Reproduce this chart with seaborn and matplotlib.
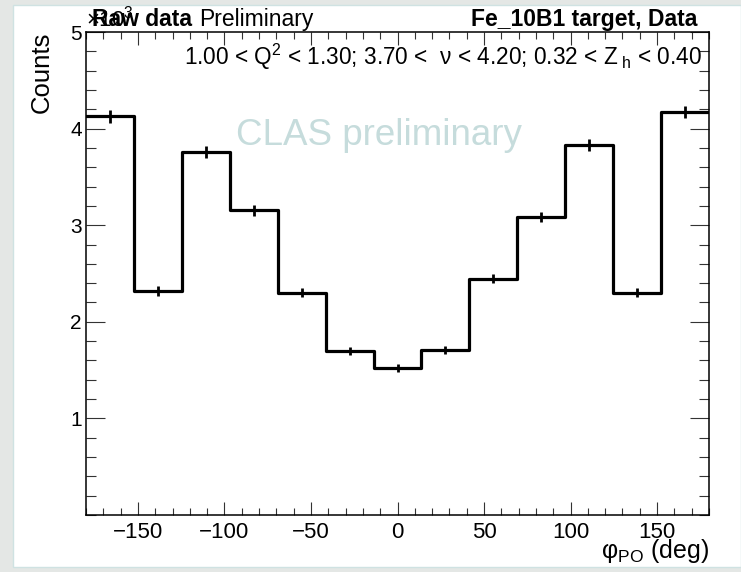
import numpy as np
import pandas as pd
import matplotlib
matplotlib.use("Agg")
import matplotlib.pyplot as plt
import seaborn as sns
from matplotlib.patches import Rectangle
from matplotlib.ticker import MultipleLocator, FixedLocator, FixedFormatter

# ---- data (counts in units of 10^3) ----
counts_k = [4.126, 2.319, 3.762, 3.154, 2.302, 1.696, 1.523,
            1.713, 2.448, 3.084, 3.835, 2.302, 4.174]
x_range = (-180, 180)
n_bins = 13
x_ticks = [-150, -100, -50, 0, 50, 100, 150]
y_ticks_k = [1, 2, 3, 4, 5]
y_tick_labels = ["1", "2", "3", "4", "5"]

sns.set_theme(style="ticks")
plt.rcParams['font.family'] = ['Liberation Sans', 'DejaVu Sans']
plt.rcParams['mathtext.fontset'] = 'custom'
plt.rcParams['mathtext.rm'] = 'Liberation Sans'
plt.rcParams['mathtext.it'] = 'Liberation Sans:italic'
plt.rcParams['mathtext.bf'] = 'Liberation Sans:bold'
plt.rcParams['mathtext.default'] = 'regular'
plt.rcParams['text.color'] = 'black'
plt.rcParams['xtick.labelcolor'] = 'black'
plt.rcParams['ytick.labelcolor'] = 'black'

edges = np.linspace(x_range[0], x_range[1], n_bins + 1)
centers = 0.5 * (edges[:-1] + edges[1:])
counts = np.array(counts_k) * 1000.0
df = pd.DataFrame({"phi": centers, "counts": counts})

W, H = 741, 572
fig = plt.figure(figsize=(W / 100, H / 100), dpi=100, facecolor='#e4e7e5')
fig.patches.append(Rectangle((13 / W, 5 / H), (W - 13) / W, (H - 10) / H,
                             transform=fig.transFigure, facecolor='white',
                             edgecolor='#cfe2e2', lw=1, zorder=-10))

ax = fig.add_axes([86 / W, 57 / H, 623 / W, 483 / H])
ax.set_zorder(1)
ax.patch.set_facecolor("white")
sns.histplot(data=df, x="phi", weights="counts", bins=n_bins, binrange=x_range,
             element="step", fill=False, color="black", linewidth=2.3, ax=ax)
ax.errorbar(df["phi"], df["counts"], yerr=np.sqrt(df["counts"]), fmt="none",
            ecolor="black", elinewidth=2, capsize=0)

ax.set_xlim(*x_range)
ax.set_ylim(0, 5000)
ax.set_xlabel("")
ax.set_ylabel("")
ax.xaxis.set_major_locator(FixedLocator(x_ticks))
ax.xaxis.set_minor_locator(MultipleLocator(10))
ax.yaxis.set_major_locator(FixedLocator([v * 1000 for v in y_ticks_k]))
ax.yaxis.set_major_formatter(FixedFormatter(y_tick_labels))
ax.yaxis.set_minor_locator(MultipleLocator(200))
ax.set_xticklabels([f"\u2212{abs(t)}" if t < 0 else str(t) for t in x_ticks])

for s in ax.spines.values():
    s.set_linewidth(1.1)
    s.set_color("black")
ax.tick_params(axis="both", which="both", direction="in", top=True, right=True,
               color="#333333", width=0.8)
ax.tick_params(axis="x", which="major", length=9.5, labelsize=16, pad=5)
ax.tick_params(axis="x", which="minor", length=5)
ax.tick_params(axis="y", which="major", length=13.5, labelsize=15, pad=3)
ax.tick_params(axis="y", which="minor", length=7)

# ---- texts ----
def fy(py):
    return (H - py) / H

fig.text(86 / W, fy(26), r"$\times10^{3}$", fontsize=16, va="baseline", zorder=0)
fig.text(92 / W, fy(26), "Raw data", fontsize=16.5, weight="bold", va="baseline", zorder=2)
fig.text(199 / W, fy(26), "Preliminary", fontsize=16.5, va="baseline", zorder=2)
fig.text(697 / W, fy(26), "Fe_10B1 target, Data", fontsize=16.5, weight="bold",
         ha="right", va="baseline", zorder=2)
fig.text(702 / W, fy(65),
         r"1.00 < Q$^{2}$ < 1.30; 3.70 <  ν < 4.20; 0.32 < Z$_{\ h}$ < 0.40",
         fontsize=16.3, ha="right", va="baseline", zorder=2)
fig.text(379 / W, fy(145), "CLAS preliminary", fontsize=26.5, color="#c6dcdc",
         ha="center", va="baseline", zorder=2)
fig.text(42 / W, fy(32), "Counts", fontsize=18.5, rotation=90, ha="center", va="top")
fig.text(709 / W, fy(558), r"φ$_{PO}$ (deg)", fontsize=18, ha="right", va="baseline")

fig.savefig("out.png", dpi=100, facecolor=fig.get_facecolor())
